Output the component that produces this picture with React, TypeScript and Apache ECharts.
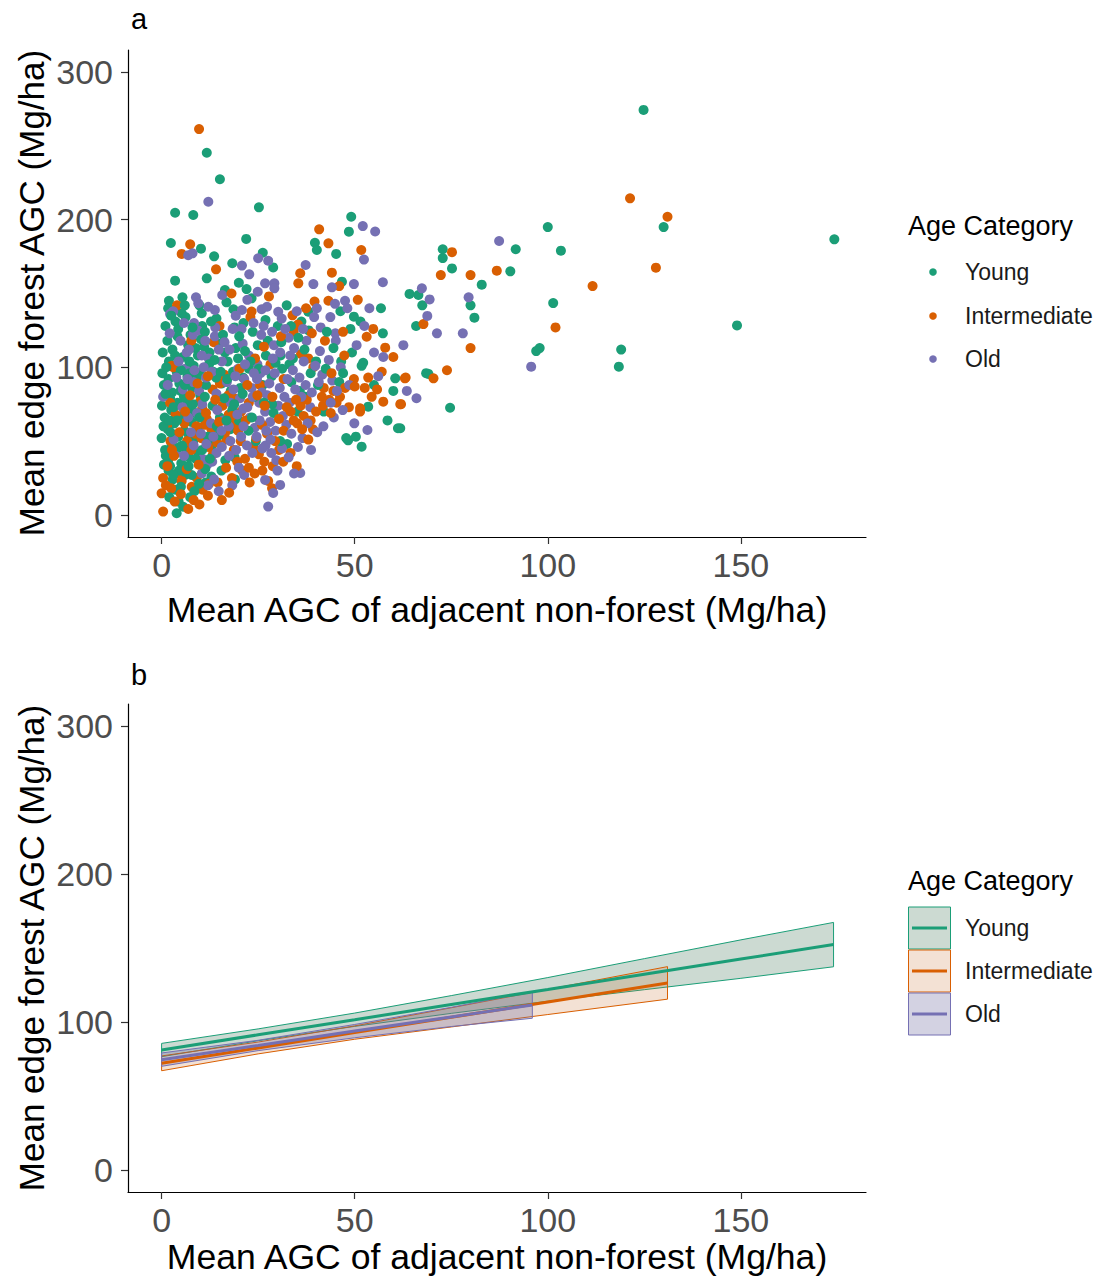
import React, { useEffect, useRef } from "react";
import * as echarts from "echarts";

const categories = ["Young", "Intermediate", "Old"];
const colors = ["#1B9E77", "#D95F02", "#7570B3"];
const bandFills = ["rgba(95,140,115,0.32)", "rgba(200,120,60,0.22)", "rgba(110,105,160,0.30)"];

const xTicks = [0, 50, 100, 150];
const yTicks = [0, 100, 200, 300];

// Panel a: Young
const youngPoints: number[][] = [
  [124.8, 274.4], [130, 195], [174.2, 186.7], [149, 128.4], [100, 195], [103.4, 179], [101.4, 143.5], [97.9, 113], [97, 111],
  [119, 112], [118.4, 100.4], [91.7, 180], [90.3, 165], [82.9, 156], [80, 142], [81, 133.6], [72.8, 180], [72.8, 174],
  [75.2, 167], [64.2, 149.7], [66.5, 149], [67.5, 142], [65.9, 128], [69.1, 95.5], [74.7, 72.6], [61.8, 58.7], [56.8, 140],
  [57.3, 123], [51.8, 101], [60.5, 92.5], [60, 84], [53.5, 73.3], [61.2, 58.7], [51.8, 46.2], [68.5, 96], [48.3, 50.5],
  [11.7, 245.4], [15.1, 227.4], [25.2, 208.4], [3.5, 204.7], [8.2, 203.2], [2.4, 184.2], [10.2, 180.4], [21.9, 187],
  [13.6, 175.2], [18.3, 170.5], [26.2, 177.6], [28.9, 167.7], [3.5, 158.7], [11.7, 160.3], [20, 157.3], [22, 153],
  [16.4, 152.4], [1.9, 145.1], [5.4, 147.4], [23.3, 146.7], [49.1, 202], [48.5, 191.9], [39.7, 184.4], [40.2, 179.5],
  [45.2, 176.8], [46.7, 158], [38, 137.7], [49.8, 134.3], [5.2, 136.6], [10.4, 136.6], [18.6, 139.3],
  [1.7, 140], [3.6, 131], [4.3, 126], [9.8, 142], [10.5, 128], [14.2, 133], [16.8, 144], [18.9, 127], [21.2, 130],
  [23.6, 124], [26.9, 132], [30.1, 128], [32.4, 142], [36.2, 131], [38.1, 125], [46.3, 138], [48.9, 126], [51.5, 131],
  [1.5, 118], [2.8, 112], [4.1, 121], [5.5, 107], [6.9, 115], [1.9, 104], [10.2, 119], [12.4, 110], [14.8, 116],
  [17.1, 104], [19.2, 113], [27.5, 118], [30.8, 108], [33.1, 102], [46.5, 104], [49.3, 110], [52.2, 103], [8.3, 101], [3.2, 100.5],
  [0.2, 96], [0.6, 88], [1.8, 92], [2.7, 83], [3.9, 97], [4.6, 89], [5.8, 80], [6.7, 94], [7.9, 86], [9.1, 92], [10, 81],
  [13.4, 97], [15.6, 89], [17.9, 84], [21.1, 93], [33.6, 90], [35.8, 84], [37.2, 80], [2.2, 79],
  [0.1, 74], [0.8, 66], [1.6, 58], [2.5, 71], [3.3, 62], [4.1, 76], [5, 67], [5.9, 57], [6.8, 72], [7.7, 63], [8.6, 69],
  [9.5, 59], [13.2, 74], [15.1, 66], [17.8, 58], [19.3, 60], [35.2, 70], [47.8, 52], [50.3, 53],
  [0, 52], [0.9, 44], [1.7, 37], [2.6, 48], [3.4, 41], [4.3, 53], [5.1, 35], [6.2, 45], [7.1, 39], [8.2, 50], [9.4, 43],
  [13, 47], [18.9, 39], [32.5, 48],
  [1.8, 30], [2.9, 24], [3.6, 17], [4.4, 9], [3.9, 1.1], [5.6, 5.5], [6.1, 27], [7.4, 12], [11.5, 22], [12.9, 26], [19, 24],
];

// Panel a: Intermediate
const intermediatePoints: number[][] = [
  [121.3, 214.5], [131, 202], [128, 167.5], [111.6, 155], [102, 127], [86.8, 165.5], [80, 162.5], [80, 113], [75.2, 178],
  [72.3, 162.5], [67.8, 129.3], [73.9, 98], [70.4, 92.5], [63.2, 93], [62, 75], [51.7, 179.5], [54.8, 126], [53.1, 120.7],
  [57.9, 113.3], [60, 107], [57, 97], [63, 92.5], [54.4, 80], [57.4, 76.7], [61.8, 75], [51.4, 72.2],
  [9.7, 261.4], [7.4, 183.3], [5.2, 176.8], [14.1, 166.4], [40.8, 193.5], [43.2, 184], [35.9, 163.7], [35.4, 156.9],
  [44.1, 164.1], [46, 155], [39.6, 144.5], [43.2, 145.1], [50.8, 145.7], [33.9, 135.2], [23.3, 137.8],
  [4, 142], [15, 128], [23, 134], [34.2, 124], [35.3, 129], [37.4, 140], [38.9, 123],
  [2.6, 101], [13.5, 117], [36.1, 109], [38, 106], [39.3, 100],
  [3, 100], [13.2, 85], [15.1, 89], [17.3, 81], [18.8, 79], [16.2, 95], [41.5, 80], [43.4, 78], [44.5, 84], [42, 86],
  [45.3, 76], [48.5, 73], [51.4, 70],
  [2.2, 76], [3.6, 68], [1.4, 60], [10.5, 72], [11.7, 65], [12.9, 58], [11.2, 61], [15.8, 74], [17.4, 68], [19.1, 62],
  [20.6, 70], [16.5, 56], [35.1, 62], [36.8, 67], [38.6, 64], [39.2, 58], [10, 77], [8.7, 55],
  [2.3, 50], [10.3, 52], [12.1, 46], [14.4, 49], [13.3, 41], [18.7, 44], [20.5, 50], [21.6, 38], [23.8, 46], [25.2, 41],
  [26.6, 36], [28.8, 33], [30.4, 44],
  [0, 14.6], [0.4, 2.2], [0.4, 25], [1.1, 20], [2.5, 18], [4, 28], [5.2, 23], [7.8, 19], [9.1, 25], [10.6, 17], [12.3, 21],
  [14.5, 22], [20.9, 30], [27.6, 23], [28.6, 18],
];

// Panel a: Old
const oldPoints: number[][] = [
  [95.7, 100.4], [87.4, 185.6], [79.5, 147.4], [78, 123], [71.3, 123], [67.4, 153.5], [69.4, 146], [68.8, 134.8],
  [62.6, 115], [63.5, 84], [66, 79], [52.1, 195.7], [55.3, 192], [52.4, 173], [57.3, 157.6], [53.8, 140], [57.4, 107],
  [56.1, 94], [53.3, 57.5],
  [12.1, 212.2], [6.9, 176], [8, 177.2], [20.8, 168.9], [25, 173.9], [27.6, 172.2], [22.7, 163], [26.8, 156.9],
  [29.2, 156.9], [29.2, 153.5], [24.9, 151.2], [15.7, 149], [8.9, 147.4], [9.5, 143.4], [22.2, 145.7], [37.3, 169.3],
  [39.3, 156.4], [44.1, 154.2], [49.8, 156.4], [47.5, 145.1], [2.2, 136.1], [13.8, 138.8], [20.8, 138.8], [25.9, 139.3], [30.2, 137.6],
  [3, 138], [8.4, 130], [9.4, 125], [12.1, 141], [13.9, 127], [19.2, 135], [20.7, 126], [23.8, 130], [27.3, 141],
  [28.6, 124], [31.1, 133], [35, 138], [41.2, 127], [43.7, 134], [45, 123], [48.1, 140],
  [6.5, 110], [12.2, 106], [13.8, 121], [21, 116], [22.6, 108], [24.8, 102], [29.1, 115], [30.7, 110], [32.9, 120],
  [41, 111], [43.3, 105], [45.1, 118],
  [0.4, 80.1], [6.1, 99], [8.2, 90], [9.7, 84], [14.2, 82], [21.4, 92], [23.3, 86], [25.6, 96], [27.4, 81], [34, 98],
  [35.7, 93], [37.3, 88], [41.6, 95], [44.2, 91],
  [9.2, 69], [10.5, 75], [12.8, 62], [14.4, 71], [16, 64], [17.9, 76], [21.2, 72], [22.9, 66], [24.1, 59], [25.3, 76],
  [26.8, 70], [28.1, 63], [29.5, 57], [30.2, 74], [31.4, 67], [32.3, 61], [38.5, 73], [40.3, 56], [44.6, 66], [49.9, 62],
  [3.1, 51], [3.9, 44], [10.6, 38], [11.8, 34], [13.1, 36], [14.2, 42], [26.9, 47], [28.4, 42], [29.7, 37], [31.2, 45], [36.5, 52],
  [10.4, 28], [12, 20], [13.6, 24], [14.8, 16], [21.4, 27], [26.8, 23.7], [28.9, 14.8], [30.7, 20.3], [27.6, 5.6], [35.9, 28.4],
];

// Panel a: second batch of points in the dense cluster (drawn interleaved)
const youngPointsDense: number[][] = [
  [1, 128], [2.5, 135], [6, 142], [7.5, 122], [8.8, 113], [11.2, 124], [12.8, 131], [15.9, 122], [20.1, 121], [24.9, 115],
  [3.5, 108], [5, 98], [7.2, 104], [9.9, 96], [11.5, 88], [12.3, 102], [14.1, 93], [16.4, 110], [18.5, 97], [20.4, 86],
  [22.6, 99], [1, 82], [3.1, 73], [4.9, 84], [6.4, 78], [8.1, 75], [9.8, 66], [11.2, 80], [12, 53], [14.3, 60], [16.2, 79],
  [18.3, 71], [20, 64], [22.5, 57], [24, 80], [26.2, 88], [28.5, 94], [31.2, 99], [34, 106], [38.6, 96], [40.5, 88],
  [42.5, 99], [0.5, 60], [2, 64], [4.7, 46], [6.9, 55], [8.8, 38], [10.5, 44], [11.3, 31], [1.1, 40], [2.2, 33], [4.5, 30],
  [7.8, 27], [8.5, 16], [2, 12], [5, 19], [16.5, 37], [15.5, 30], [24.4, 50], [28.6, 75], [42, 70], [46, 90], [55, 88],
  [58.5, 64], [30.7, 50],
];
const intermediatePointsDense: number[][] = [
  [5.9, 62], [6.6, 50], [7.7, 44], [9, 60], [11.5, 69], [13.9, 78], [14.9, 63], [16.8, 51], [18.2, 67], [19.8, 57],
  [21.8, 64], [22.6, 76], [24.5, 52], [26, 61], [27.3, 55], [29.4, 50], [31.6, 57], [33.4, 70], [34.2, 64], [36, 74],
  [37.6, 78], [40, 70], [41.8, 74], [43.8, 69], [46.2, 80], [47.5, 86], [49.8, 92], [52.6, 86], [55.8, 85], [16.7, 32],
  [18.2, 25], [19.6, 36], [22.6, 32], [24.1, 28], [3.2, 40], [5, 14], [6.5, 31], [8.3, 10], [12, 13], [9.6, 34],
  [25.5, 88], [28.2, 102], [31.6, 92], [24.2, 106], [7.7, 118], [18.1, 150], [27.8, 148], [42.3, 118], [47, 124],
];
const oldPointsDense: number[][] = [
  [1.6, 88], [3.8, 93], [5.5, 85], [7.1, 112], [10.9, 100], [11.5, 93], [13, 97], [15.6, 104], [16.9, 90], [18.6, 85],
  [19.8, 99], [20.3, 79], [22.2, 73], [23.6, 80], [24.7, 92], [26, 83], [27.9, 89], [29.3, 96], [30.6, 86], [31.8, 80],
  [33.1, 76], [34.6, 85], [32.6, 92], [36.2, 80], [38.9, 83], [40.7, 90], [17.4, 60], [19.6, 68], [20.6, 53], [22.1, 47],
  [23.5, 42], [25.4, 64], [27.1, 57], [33.6, 55], [35.3, 46], [37.8, 62], [5.4, 73], [6.9, 66], [7.6, 56], [8.3, 47],
  [5.8, 40], [15.6, 46], [17.5, 40], [18.3, 20], [20, 32], [4.9, 118], [8.1, 122], [16.3, 117], [18.4, 126], [25.8, 122],
  [34.3, 113], [37.5, 118], [39.5, 134], [52.5, 128], [55, 110], [50.5, 115], [46.4, 100], [48.6, 88],
];

// Panel a: third batch filling the remaining gaps of the dense cluster
const youngPointsFill: number[][] = [
  [2.3, 56], [4, 64], [6, 88], [7.3, 96], [9.4, 108], [11, 114], [13.7, 105], [15.3, 97], [17, 92], [19.8, 106],
  [21.6, 111], [23, 104], [25.2, 99], [27, 108], [29.5, 103], [31, 117], [33.5, 128], [35.4, 120], [37, 112], [40, 104],
  [42.8, 124], [44.5, 113], [47, 96], [6.2, 134], [8, 127], [0.3, 110], [1.2, 100], [0.6, 34], [3, 27], [5.3, 47],
  [7, 33], [9.7, 21], [12.5, 38], [14.8, 54], [16.8, 64], [18.8, 75], [21, 82], [23.4, 66], [26.5, 76], [29, 69],
];
const intermediatePointsFill: number[][] = [
  [22.2, 88], [24.8, 81], [26.7, 74], [28.7, 80], [30.4, 65], [32.4, 73], [34.8, 78], [36.4, 58], [38, 51], [31.5, 36],
  [33.4, 42], [35, 33], [26.1, 30], [22.8, 22], [17.5, 15], [15.6, 10], [9.8, 7], [6.9, 4], [3.4, 9], [1.5, 33],
  [2.7, 44], [4.6, 56], [6.1, 70], [7.4, 81], [9.3, 89], [12, 94], [20.2, 99], [26.5, 114], [30.9, 121], [44, 96],
  [47.3, 108], [50, 87], [53.5, 93],
];
const oldPointsFill: number[][] = [
  [10.2, 55], [11.6, 48], [13.4, 53], [15.5, 57], [17.8, 50], [19.3, 44], [21.2, 60], [24.6, 53], [26.1, 45], [28.2, 51],
  [30, 30], [32.9, 39], [34.3, 28], [38.7, 44], [41.9, 60], [43.8, 76], [46.9, 71], [45.4, 84], [39.8, 101], [36.8, 104],
  [33.3, 108], [28.8, 106], [26.9, 98], [23.9, 96], [21.6, 102], [19.1, 94], [17.6, 112], [14.8, 112], [10.4, 108],
  [8.5, 98], [6.7, 92], [4.4, 104], [2.1, 123], [5.8, 130], [11.3, 118], [26.4, 128], [32, 126], [36.6, 126], [40.2, 140],
  [44.9, 143],
];

// Panel b: fitted lines with confidence bands
const youngFitX = [0, 25, 50, 75, 100, 125, 150, 174];
const youngFit = [81, 91.3, 101.5, 111.8, 122, 132.3, 142.5, 152.3];
const youngLower = [76.5, 87.3, 97, 105.8, 114, 121.8, 129.5, 137.3];
const youngUpper = [85.5, 95.3, 106, 117.8, 130, 142.8, 155.5, 167.3];

const intermediateFitX = [0, 25, 50, 75, 100, 131];
const intermediateFit = [72, 82.4, 92.8, 103.1, 113.5, 126.4];
const intermediateLower = [67, 78.4, 88.3, 96.6, 105, 115.4];
const intermediateUpper = [77, 86.4, 97.3, 109.6, 122, 137.4];

const oldFitX = [0, 25, 50, 75, 96];
const oldFit = [74.5, 84.1, 93.8, 103.4, 111.5];
const oldLower = [70, 80.6, 89.3, 96.9, 102.5];
const oldUpper = [79, 87.6, 98.3, 109.9, 120.5];

const FONT = '"Liberation Sans", Arial, sans-serif';

function makeAxes(gridIndex: number) {
  const xAxis = {
    type: "value",
    gridIndex,
    min: -8.7,
    max: 182.4,
    axisLine: { show: true, onZero: false, lineStyle: { color: "#000", width: 1.2 } },
    axisTick: { show: true, length: 7, customValues: xTicks, lineStyle: { color: "#333", width: 1.2 } },
    axisLabel: { customValues: xTicks, fontSize: 34, color: "#4D4D4D", fontFamily: FONT, margin: 11 },
    splitLine: { show: false },
  };
  const yAxis = {
    type: "value",
    gridIndex,
    min: -15,
    max: 315,
    axisLine: { show: true, onZero: false, lineStyle: { color: "#000", width: 1.2 } },
    axisTick: { show: true, length: 7, customValues: yTicks, lineStyle: { color: "#333", width: 1.2 } },
    axisLabel: { customValues: yTicks, fontSize: 34, color: "#4D4D4D", fontFamily: FONT, margin: 15 },
    splitLine: { show: false },
  };
  return { xAxis, yAxis };
}

function bandSeries(xs: number[], lo: number[], hi: number[], fill: string, stroke: string) {
  return {
    type: "custom",
    xAxisIndex: 1,
    yAxisIndex: 1,
    silent: true,
    z: 2,
    encode: { x: 0, y: [1, 2] },
    data: xs.map((x, i) => [x, lo[i], hi[i]]),
    renderItem: (params: any, api: any) => {
      if (params.dataIndex !== 0) return null;
      const pts: number[][] = [];
      for (let i = 0; i < xs.length; i++) pts.push(api.coord([xs[i], hi[i]]));
      for (let i = xs.length - 1; i >= 0; i--) pts.push(api.coord([xs[i], lo[i]]));
      return {
        type: "polygon",
        shape: { points: pts },
        style: { fill, stroke, lineWidth: 1 },
      };
    },
  };
}

function lineSeries(xs: number[], ys: number[], color: string) {
  return {
    type: "line",
    xAxisIndex: 1,
    yAxisIndex: 1,
    z: 3,
    symbol: "none",
    silent: true,
    lineStyle: { color, width: 3 },
    data: xs.map((x, i) => [x, ys[i]]),
  };
}

function text(x: number, y: number, s: string, size: number, opts: any = {}) {
  return {
    type: "text",
    x,
    y,
    rotation: opts.rotation || 0,
    style: {
      text: s,
      font: `${size}px ${FONT}`,
      fill: opts.fill || "#000",
      textAlign: opts.align || "left",
      align: opts.align || "left",
      textVerticalAlign: "middle",
      verticalAlign: "middle",
    },
  };
}

export default function App() {
  const ref = useRef<HTMLDivElement>(null);
  useEffect(() => {
    if (!ref.current) return;
    const chart = echarts.init(ref.current, null, { renderer: "svg" });
    const a = makeAxes(0);
    const b = makeAxes(1);
    const pointSets = [
      youngPoints, intermediatePoints, oldPoints,
      youngPointsDense, intermediatePointsDense, oldPointsDense,
      youngPointsFill, intermediatePointsFill, oldPointsFill,
    ];

    const graphics: any[] = [
      text(131, 19, "a", 29),
      text(131, 675, "b", 29),
      text(497, 610, "Mean AGC of adjacent non-forest (Mg/ha)", 35.6, { align: "center" }),
      text(497, 1257, "Mean AGC of adjacent non-forest (Mg/ha)", 35.6, { align: "center" }),
      text(31, 293, "Mean edge forest AGC (Mg/ha)", 35, { align: "center", rotation: Math.PI / 2 }),
      text(31, 948, "Mean edge forest AGC (Mg/ha)", 35, { align: "center", rotation: Math.PI / 2 }),
      text(908, 226, "Age Category", 27),
      text(908, 881, "Age Category", 27),
    ];
    const legA = [272, 316, 359];
    const legB = [928, 971, 1014];
    categories.forEach((c, i) => {
      graphics.push({ type: "circle", shape: { cx: 933, cy: legA[i], r: 3.8 }, style: { fill: colors[i] } });
      graphics.push(text(965, legA[i], c, 23, { fill: "#1a1a1a" }));
      graphics.push({
        type: "rect",
        shape: { x: 908.5, y: legB[i] - 21, width: 42, height: 42 },
        style: { fill: bandFills[i], stroke: colors[i], lineWidth: 1 },
      });
      graphics.push({
        type: "line",
        shape: { x1: 912, y1: legB[i], x2: 947, y2: legB[i] },
        style: { stroke: colors[i], lineWidth: 3 },
      });
      graphics.push(text(965, legB[i], c, 23, { fill: "#1a1a1a" }));
    });

    const series: any[] = [];
    pointSets.forEach((pts, k) => {
      const i = k % 3;
      series.push({
        type: "scatter",
        name: categories[i],
        xAxisIndex: 0,
        yAxisIndex: 0,
        symbolSize: 10,
        itemStyle: { color: colors[i], opacity: 1 },
        silent: true,
        data: pts,
      });
    });
    series.push(bandSeries(youngFitX, youngLower, youngUpper, bandFills[0], colors[0]));
    series.push(bandSeries(intermediateFitX, intermediateLower, intermediateUpper, bandFills[1], colors[1]));
    series.push(bandSeries(oldFitX, oldLower, oldUpper, bandFills[2], colors[2]));
    series.push(lineSeries(youngFitX, youngFit, colors[0]));
    series.push(lineSeries(intermediateFitX, intermediateFit, colors[1]));
    series.push(lineSeries(oldFitX, oldFit, colors[2]));

    chart.setOption({
      animation: false,
      backgroundColor: "#fff",
      textStyle: { fontFamily: FONT },
      grid: [
        { left: 128, top: 50, width: 738, height: 487, containLabel: false, outerBoundsMode: "none" },
        { left: 128, top: 704, width: 738, height: 488, containLabel: false, outerBoundsMode: "none" },
      ],
      xAxis: [a.xAxis, b.xAxis],
      yAxis: [a.yAxis, b.yAxis],
      graphic: graphics,
      series,
    });
    return () => chart.dispose();
  }, []);
  return (
    <div
      ref={ref}
      style={{ position: "absolute", left: 0, top: 0, width: 1103, height: 1283, background: "#fff" }}
    />
  );
}
